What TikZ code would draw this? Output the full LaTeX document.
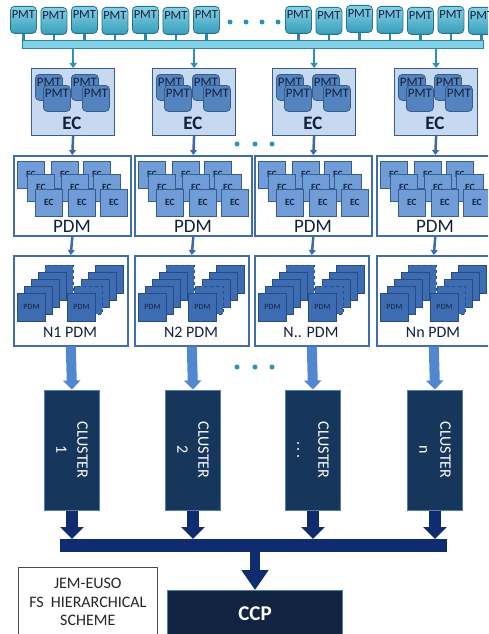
\documentclass[tikz,border=0pt]{standalone}
\usepackage{fontspec}
\setmainfont{Carlito}
\usetikzlibrary{arrows.meta}
\definecolor{pmttop}{RGB}{135,208,228}
\definecolor{pmtbot}{RGB}{55,158,188}
\definecolor{pmtedge}{RGB}{35,118,142}
\definecolor{busfill}{RGB}{130,208,230}
\definecolor{busedge}{RGB}{45,135,165}
\definecolor{tealarrow}{RGB}{45,145,175}
\definecolor{ecfill}{RGB}{198,217,241}
\definecolor{ecedge}{RGB}{56,93,138}
\definecolor{inpmt}{RGB}{84,132,192}
\definecolor{txtdark}{RGB}{18,32,60}
\definecolor{pdmedge}{RGB}{65,110,170}
\definecolor{ecsq}{RGB}{112,157,215}
\definecolor{pdmsq}{RGB}{62,108,178}
\definecolor{pdmsqedge}{RGB}{40,75,130}
\definecolor{midarrow}{RGB}{60,105,172}
\definecolor{lightarrow}{RGB}{80,136,208}
\definecolor{clusterfill}{RGB}{22,54,92}
\definecolor{clusteredge}{RGB}{85,125,175}
\definecolor{navyarrow}{RGB}{15,45,110}
\definecolor{ccpfill}{RGB}{17,36,66}
\definecolor{dotc}{RGB}{40,150,175}
\newcommand{\mydots}{.\,.\,.}
\begin{document}
\begin{tikzpicture}[x=1pt,y=-1pt,
  toppmt/.style={draw=pmtedge, line width=0.8pt, rounded corners=4pt, top color=pmttop, bottom color=pmtbot,
    minimum width=26pt, minimum height=27pt, inner sep=0pt, anchor=north west,
    label={[anchor=north, inner sep=0pt, yshift=-4pt, text=txtdark, font=\fontsize{12.5}{12.5}\selectfont]north:PMT}},
  bus/.style={draw=busedge, line width=0.8pt, fill=busfill, minimum width=461pt, minimum height=8pt, inner sep=0pt, anchor=north west},
  stub/.style={draw=busedge, line width=2.5pt},
  tarrow/.style={draw=tealarrow, line width=2.5pt, -{Triangle[width=7pt,length=5pt]}},
  barrow/.style={draw=midarrow, line width=2.5pt, -{Triangle[width=7pt,length=5pt]}},
  ecbox/.style={draw=ecedge, line width=1.2pt, fill=ecfill, minimum width=83pt, minimum height=67pt, anchor=north west, inner sep=0pt},
  ecpmt/.style={draw=ecedge, line width=0.8pt, fill=inpmt, rounded corners=4pt, minimum width=27pt, minimum height=26pt,
    anchor=north west, inner sep=0pt,
    label={[anchor=north, inner sep=0pt, yshift=-4pt, text=txtdark, font=\fontsize{13}{13}\selectfont]north:PMT}},
  biglabel/.style={text=txtdark, inner sep=0pt, font=\bfseries\fontsize{19}{19}\selectfont},
  pdmlabel/.style={text=txtdark, inner sep=0pt, font=\fontsize{19}{19}\selectfont},
  nlabel/.style={text=txtdark, inner sep=0pt, font=\fontsize{16}{16}\selectfont},
  pdmbox/.style={draw=pdmedge, line width=1.6pt, fill=white, minimum width=117pt, minimum height=80pt, anchor=north west, inner sep=0pt},
  ecsqr/.style={draw=ecedge, line width=0.8pt, fill=ecsq, minimum size=27pt, anchor=north west, inner sep=0pt,
    text=txtdark, font=\bfseries\fontsize{9.5}{9.5}\selectfont},
  nbox/.style={draw=pdmedge, line width=1.6pt, fill=white, minimum width=114pt, minimum height=90pt, anchor=north west, inner sep=0pt},
  pdmsqr/.style={draw=pdmsqedge, line width=0.8pt, fill=pdmsq, minimum size=28pt, anchor=north west, inner sep=0pt,
    font=\fontsize{8}{8}\selectfont, text=txtdark},
  dashsq/.style={pdmsqr, dashed},
  bigarrow/.style={draw=lightarrow, line width=10pt, -{Triangle[width=17pt,length=9pt]}},
  cluster/.style={draw=clusteredge, line width=1pt, fill=clusterfill, minimum width=120pt, minimum height=55pt,
    rotate=-90, text=white, align=center, font=\fontsize{16}{21}\selectfont, inner sep=0pt},
  lastbus/.style={fill=navyarrow, minimum width=387pt, minimum height=13pt, anchor=north west, inner sep=0pt},
  navyarr/.style={draw=navyarrow, line width=12pt, -{Triangle[width=23pt,length=12pt]}},
  ccparr/.style={draw=navyarrow, line width=10pt, -{Triangle[width=26pt,length=20pt]}},
  ccpbox/.style={draw=clusteredge, line width=1pt, fill=ccpfill, minimum width=175pt, minimum height=46pt,
    anchor=north west, text=white, font=\bfseries\fontsize{21}{21}\selectfont},
  jembox/.style={draw=black!70, line width=0.6pt, fill=white, minimum width=139pt, minimum height=70pt,
    anchor=north west, align=center, font=\fontsize{16}{18.5}\selectfont, text=black!85},
  dotstyle/.style={fill=dotc}
]
\clip (0,0) rectangle (488,634);
\useasboundingbox (0,0) rectangle (488,634);

% top PMT row
\foreach \i/\x/\y in {1/10/6,2/40.5/7,3/71/6,4/101.5/7,5/132/6,6/162.5/7,7/193/6,
  8/285/6,9/315.5/7,10/346/5,11/376.5/6,12/407/7,13/437.5/6,14/468/7}
  \node[toppmt] (p\i) at (\x,\y) {};
\foreach \x in {230,246,262,278}
  \fill[dotstyle] (\x,22) circle (2.5pt);
\node[bus] (bus) at (22,40) {};
\foreach \i in {1,2,3,4,5,6,7,8,9,10,11,12,13,14}
  \draw[stub] (p\i.south) -- (p\i.south |- bus.north);

% columns
\foreach \c/\cx/\nl/\cl in {1/72/{N1 PDM}/1,2/193/{N2 PDM}/2,3/313/{N.. PDM}/{\mydots},4/435/{Nn PDM}/n}{
  % EC box
  \node[ecbox] (ec\c) at ({\cx-41},68) {};
  \node[ecpmt] (ecpa\c) at ({\cx-37},74) {};
  \node[ecpmt] (ecpb\c) at ({\cx-29},85) {};
  \node[ecpmt] (ecpc\c) at ({\cx-1},74) {};
  \node[ecpmt] (ecpd\c) at ({\cx+10},85) {};
  \node[biglabel] (ecl\c) at ({\cx},123) {EC};
  \draw[tarrow] (bus.south -| ec\c.north) -- (ec\c.north);
  % PDM box
  \node[pdmbox] (pdm\c) at ({\cx-59},155) {};
  \node[ecsqr] (sa\c) at ({\cx-55},161) {EC};
  \node[ecsqr] (sb\c) at ({\cx-21},161) {EC};
  \node[ecsqr] (sc\c) at ({\cx+11},161) {EC};
  \node[ecsqr] (sd\c) at ({\cx-45},174) {EC};
  \node[ecsqr] (se\c) at ({\cx-11},174) {EC};
  \node[ecsqr] (sf\c) at ({\cx+21},174) {EC};
  \node[ecsqr] (sg\c) at ({\cx-37},189) {EC};
  \node[ecsqr] (sh\c) at ({\cx-4},189) {EC};
  \node[ecsqr] (si\c) at ({\cx+28},189) {EC};
  \node[pdmlabel] (pdml\c) at ({\cx},226) {PDM};
  \draw[barrow] (ec\c.south) -- (pdm\c.north);
  % N PDM box
  \node[nbox] (n\c) at ({\cx-59},255) {};
  \node[dashsq] (qa\c) at ({\cx-27},265) {};
  \node[pdmsqr] (qb\c) at ({\cx-34},272) {};
  \node[pdmsqr] (qc\c) at ({\cx-41},279) {};
  \node[pdmsqr] (qd\c) at ({\cx-48},286) {};
  \node[pdmsqr] (qe\c) at ({\cx-55},293) {PDM};
  \node[pdmsqr] (ra\c) at ({\cx+23},265) {};
  \node[pdmsqr] (rb\c) at ({\cx+16},272) {};
  \node[pdmsqr] (rc\c) at ({\cx+9},279) {};
  \node[dashsq] (rd\c) at ({\cx+2},286) {};
  \node[pdmsqr] (re\c) at ({\cx-5},293) {PDM};
  \node[nlabel] (nl\c) at ({\cx-2},332) {\nl};
  \draw[barrow] (pdm\c.south) -- (n\c.north);
  % cluster
  \node[cluster] (cl\c) at ({\cx},450) {CLUSTER\\\cl};
  \draw[bigarrow] (n\c.south) -- (cl\c.west);
}
\foreach \x in {237,255,272}{
  \fill[dotstyle] (\x,144) circle (2.5pt);
  \fill[dotstyle] (\x,367) circle (2.5pt);
}

% bottom bus and CCP
\node[lastbus] (bus2) at (60,539) {};
\foreach \c in {1,2,3,4}
  \draw[navyarr] (cl\c.east) -- (cl\c.east |- bus2.north);
\node[ccpbox] (ccp) at (167,590) {CCP};
\draw[ccparr] (bus2.south -| ccp.north) -- (ccp.north);
\node[jembox] (jem) at (18,567) {JEM-EUSO\\FS\ \ HIERARCHICAL\\SCHEME};
\end{tikzpicture}
\end{document}
